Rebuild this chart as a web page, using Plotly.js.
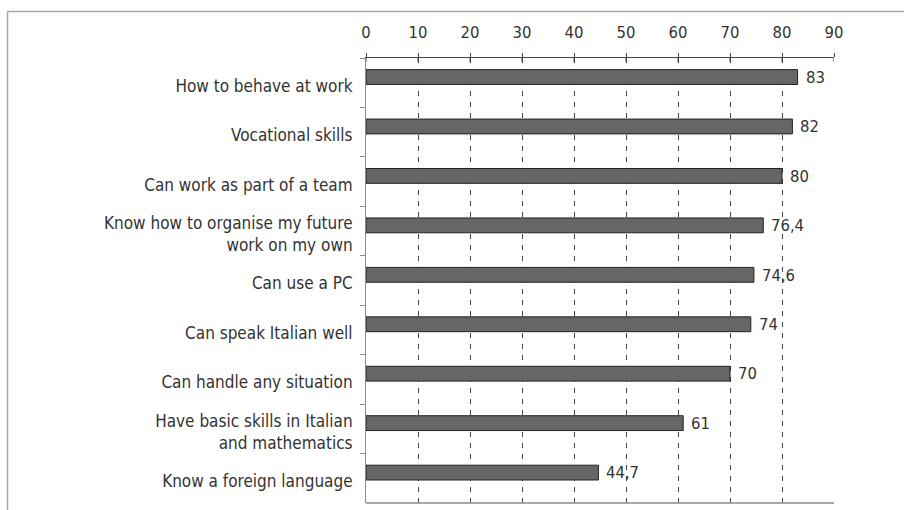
<!DOCTYPE html>
<html>
<head>
<meta charset="utf-8">
<script src="https://cdn.plot.ly/plotly-3.0.1.min.js"></script>
<style>
  html, body { margin: 0; padding: 0; background: #fff; }
  #chart { width: 904px; height: 510px; }
</style>
</head>
<body>
<div id="chart"></div>
<script>
const categories = [
  "How to behave at work",
  "Vocational skills",
  "Can work as part of a team",
  "Know how to organise my future<br>work on my own",
  "Can use a PC",
  "Can speak Italian well",
  "Can handle any situation",
  "Have basic skills in Italian<br>and mathematics",
  "Know a foreign language"
];
const values = [83, 82, 80, 76.4, 74.6, 74, 70, 61, 44.7];
const xTicks = [0, 10, 20, 30, 40, 50, 60, 70, 80, 90];

const fontFam = "'DejaVu Sans Condensed', 'Liberation Sans Narrow', 'DejaVu Sans', sans-serif";
const textCol = "#333333";
const labels = values.map(v => String(v).replace('.', ','));

const trace = {
  type: 'bar',
  orientation: 'h',
  y: categories,
  x: values,
  width: 0.3,
  offset: -0.265,
  marker: { color: '#666666', line: { color: '#222222', width: 1 } },
  hoverinfo: 'none'
};

const annotations = values.map((v, i) => ({
  x: v, y: categories[i], xref: 'x', yref: 'y',
  text: labels[i], showarrow: false,
  xanchor: 'left', yanchor: 'middle',
  xshift: 6, yshift: 5.5,
  font: { family: fontFam, size: 16.5, color: textCol }
}));

const layout = {
  width: 904, height: 510,
  margin: { l: 366, r: 70, t: 58, b: 7, pad: 0 },
  paper_bgcolor: '#ffffff', plot_bgcolor: '#ffffff',
  showlegend: false,
  bargap: 0.7,
  xaxis: {
    side: 'top', range: [0, 90], tickvals: xTicks, ticktext: xTicks.map(String),
    showline: true, linecolor: '#444444', linewidth: 1,
    ticks: 'outside', ticklen: 4, tickcolor: '#444444', tickwidth: 1,
    showgrid: true, gridcolor: '#444444', gridwidth: 1, griddash: '5px,6px',
    zeroline: false, fixedrange: true,
    tickfont: { family: fontFam, size: 16.5, color: textCol },
    ticklabelstandoff: 8
  },
  yaxis: {
    type: 'category', range: [categories.length - 0.5, -0.5],
    showline: true, linecolor: '#8a8a8a', linewidth: 1,
    ticks: 'outside', tickson: 'boundaries', ticklen: 5, tickcolor: '#8a8a8a',
    showgrid: false, zeroline: false, fixedrange: true,
    tickfont: { family: fontFam, size: 17, color: textCol },
    ticklabelstandoff: 9,
    ticklabelshift: -3
  },
  annotations: annotations,
  shapes: [
    // inner part of the crossing x-axis ticks
    ...xTicks.map(t => ({
      type: 'line', xref: 'x', yref: 'paper', x0: t, x1: t,
      ysizemode: 'pixel', yanchor: 1, y0: 0, y1: -4,
      line: { color: '#444444', width: 1 }
    })),
    // bottom axis line
    { type: 'line', xref: 'paper', yref: 'paper', x0: 0, x1: 1, y0: 0, y1: 0,
      line: { color: '#8a8a8a', width: 1.5 } },
    // outer frame (left and top)
    { type: 'path', xref: 'paper', yref: 'paper',
      path: 'M ' + ((7.5 - 366) / 468) + ',' + (-10 / 445) +
            ' L ' + ((7.5 - 366) / 468) + ',' + (1 + (58 - 11.5) / 445) +
            ' L ' + ((910 - 366) / 468) + ',' + (1 + (58 - 11.5) / 445),
      line: { color: '#a8a8a8', width: 1.5 } }
  ]
};

Plotly.newPlot('chart', [trace], layout, { displayModeBar: false, staticPlot: true });
</script>
</body>
</html>
